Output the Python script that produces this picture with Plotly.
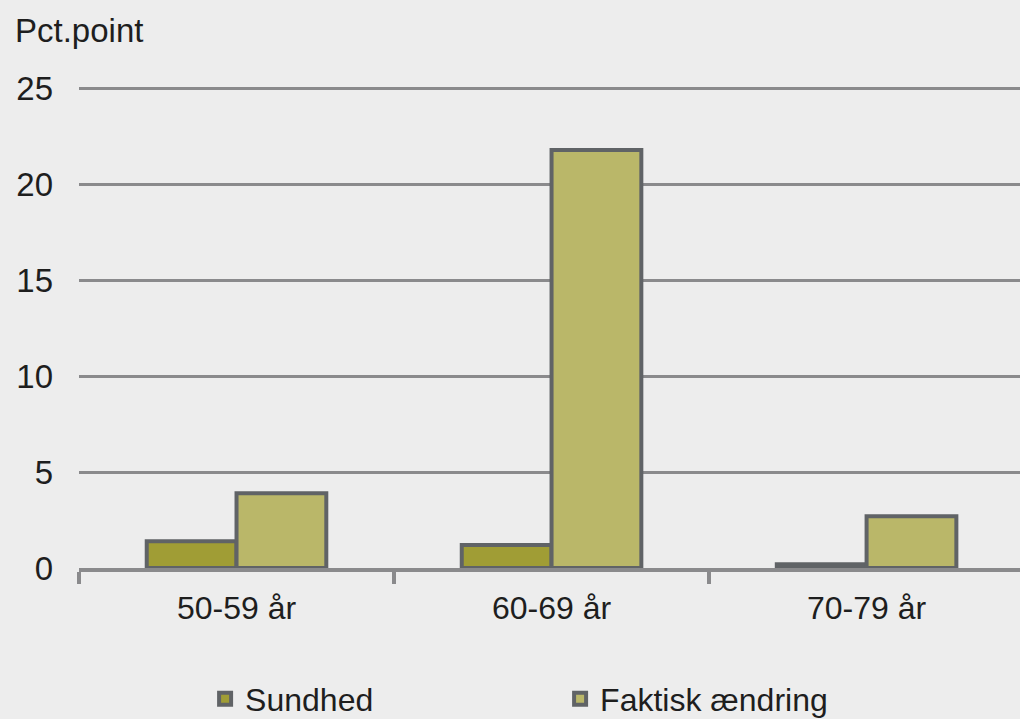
import plotly.graph_objects as go

categories = ["50-59 år", "60-69 år", "70-79 år"]
sundhed = [1.4, 1.2, 0.2]
faktisk = [3.9, 21.8, 2.7]
y_ticks = [0, 5, 10, 15, 20, 25]

BG = "#EDEDED"
EDGE = "#606366"
GRID = "#8A8A8C"
TXT = "#1E1E1E"
FONT = "Liberation Sans, Arial, sans-serif"

fig = go.Figure()
fig.add_trace(go.Bar(x=categories, y=sundhed, name="Sundhed",
                     marker=dict(color="#A09D35", line=dict(color=EDGE, width=4))))
fig.add_trace(go.Bar(x=categories, y=faktisk, name="Faktisk ændring",
                     marker=dict(color="#BAB769", line=dict(color=EDGE, width=4))))

fig.update_layout(
    width=1020, height=719,
    paper_bgcolor=BG, plot_bgcolor=BG,
    margin=dict(l=79, r=0, t=87, b=151, autoexpand=False),
    barmode="group", bargap=0.43, bargroupgap=0,
    font=dict(family=FONT, size=32, color=TXT),
    title=dict(text="Pct.point", x=15/1020, xanchor="left", xref="container",
               y=1-30/719, yanchor="middle", yref="container",
               font=dict(family=FONT, size=33, color=TXT)),
    showlegend=True,
    legend=dict(orientation="h", x=0.134, xanchor="left",
                y=1-699/719, yanchor="middle", yref="container",
                font=dict(family=FONT, size=32, color=TXT), bgcolor="rgba(0,0,0,0)",
                entrywidth=310, traceorder="normal"),
    xaxis=dict(range=[-0.5, 2.487], showgrid=False, showline=True, linecolor=GRID, linewidth=4,
               ticks="outside", tickson="boundaries", ticklen=12, tickwidth=4, tickcolor=GRID,
               tickfont=dict(family=FONT, size=32, color=TXT), ticklabelstandoff=9),
    yaxis=dict(range=[0, 25.08], tickvals=y_ticks, showgrid=True, gridcolor=GRID, gridwidth=3,
               zeroline=False, showline=False, ticks="",
               tickfont=dict(family=FONT, size=33, color=TXT), ticklabelstandoff=25),
)

fig.write_html("out.html", config={"displayModeBar": False},
               post_script="document.body.style.margin='0';document.body.style.overflow='hidden';")
